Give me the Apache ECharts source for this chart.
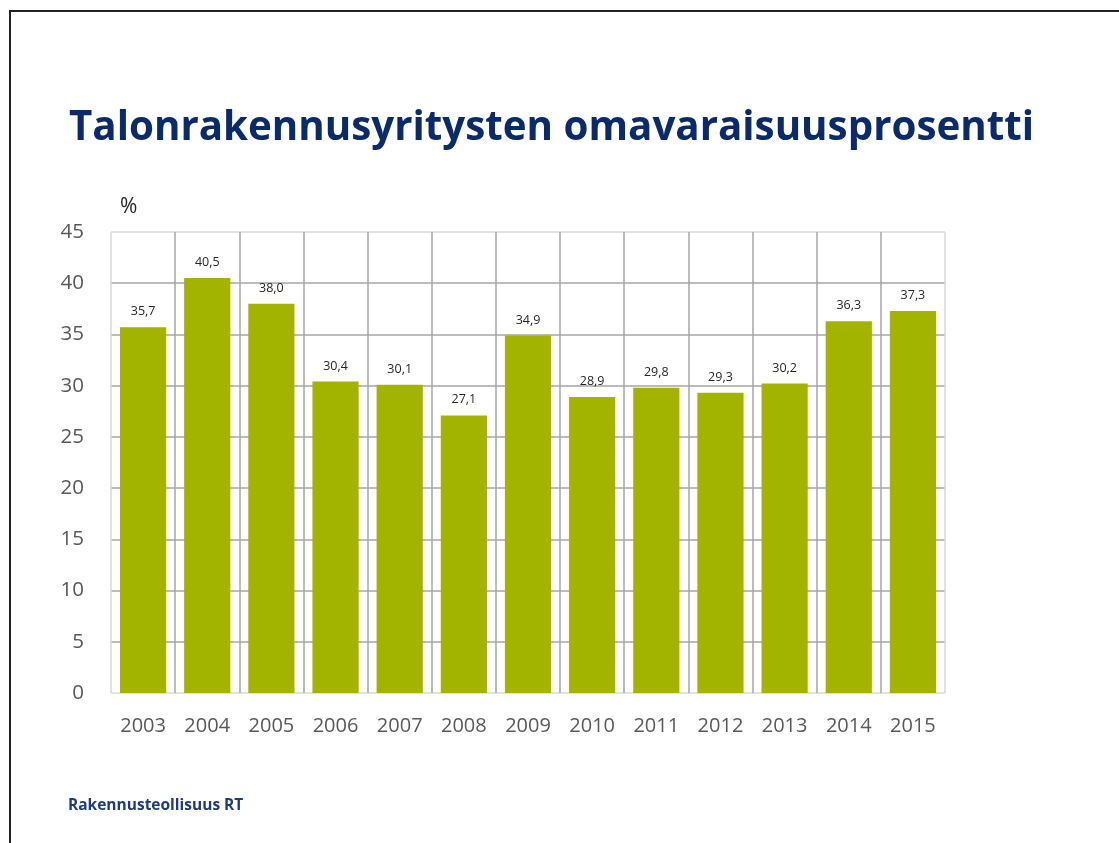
<!DOCTYPE html>
<html>
<head>
<meta charset="utf-8">
<script src="https://cdn.jsdelivr.net/npm/echarts@6/dist/echarts.min.js"></script>
<style>
  html, body { margin: 0; padding: 0; background: #fff; }
  #chart { width: 1119px; height: 843px; }
</style>
</head>
<body>
<div id="chart"></div>
<script>
// vuodet ja omavaraisuusaste (%)
var years = ['2003', '2004', '2005', '2006', '2007', '2008', '2009', '2010', '2011', '2012', '2013', '2014', '2015'];
var values = [35.7, 40.5, 38.0, 30.4, 30.1, 27.1, 34.9, 28.9, 29.8, 29.3, 30.2, 36.3, 37.3];
var yTicks = [0, 5, 10, 15, 20, 25, 30, 35, 40, 45];

var titleText = 'Talonrakennusyritysten omavaraisuusprosentti';
var sourceText = 'Rakennusteollisuus RT';

var dom = document.getElementById('chart');
var myChart = echarts.init(dom);

var light = '#d9d9d9';
var dark = '#a6a6a6';
// reunaviivat vaaleampia kuin sisäviivat
var ySplitColors = yTicks.map(function (v, i) {
    return (i === 0 || i === yTicks.length - 1) ? light : dark;
});
var xSplitColors = [];
for (var i = 0; i <= years.length; i++) {
    xSplitColors.push((i === 0 || i === years.length) ? light : dark);
}

myChart.setOption({
    animation: false,
    textStyle: { fontFamily: 'Open Sans' },
    title: {
        text: titleText,
        left: 64,
        top: 104,
        textStyle: {
            fontFamily: 'Open Sans',
            fontWeight: 'bold',
            fontSize: 40.3,
            color: '#0b2a6b'
        }
    },
    grid: {
        left: 111,
        right: 174,
        top: 232,
        bottom: 150,
        containLabel: false
    },
    xAxis: {
        type: 'category',
        data: years,
        axisLine: { show: false },
        axisTick: { show: false },
        axisLabel: {
            color: '#595959',
            fontSize: 20,
            margin: 23
        },
        splitLine: {
            show: true,
            interval: 0,
            lineStyle: { color: xSplitColors, width: 1.5 }
        }
    },
    yAxis: {
        type: 'value',
        min: 0,
        max: 45,
        interval: 5,
        axisLine: { show: false },
        axisTick: { show: false },
        axisLabel: {
            color: '#595959',
            fontSize: 20.5,
            margin: 27
        },
        splitLine: {
            lineStyle: { color: ySplitColors, width: 1.5 }
        }
    },
    series: [{
        type: 'bar',
        data: values,
        barCategoryGap: '28%',
        itemStyle: { color: '#a2b300' },
        label: {
            show: true,
            position: 'top',
            distance: 9,
            fontSize: 12.5,
            color: '#262626',
            formatter: function (p) {
                return p.value.toFixed(1).replace('.', ',');
            }
        }
    }],
    graphic: [
        {
            type: 'line',
            shape: { x1: 10, y1: 11, x2: 10, y2: 843 },
            style: { stroke: '#222', lineWidth: 2 }
        },
        {
            type: 'line',
            shape: { x1: 9, y1: 11, x2: 1119, y2: 11 },
            style: { stroke: '#222', lineWidth: 2 }
        },
        {
            type: 'text',
            left: 120,
            top: 197,
            style: { text: '%', fontSize: 21, fill: '#262626', fontFamily: 'Open Sans' }
        },
        {
            type: 'text',
            left: 68,
            top: 798,
            style: {
                text: sourceText,
                fontSize: 15.5,
                fontWeight: 'bold',
                fill: '#1f3a78',
                fontFamily: 'Open Sans'
            }
        }
    ]
});
window.addEventListener('resize', function () {
    myChart.resize();
});
</script>
</body>
</html>
